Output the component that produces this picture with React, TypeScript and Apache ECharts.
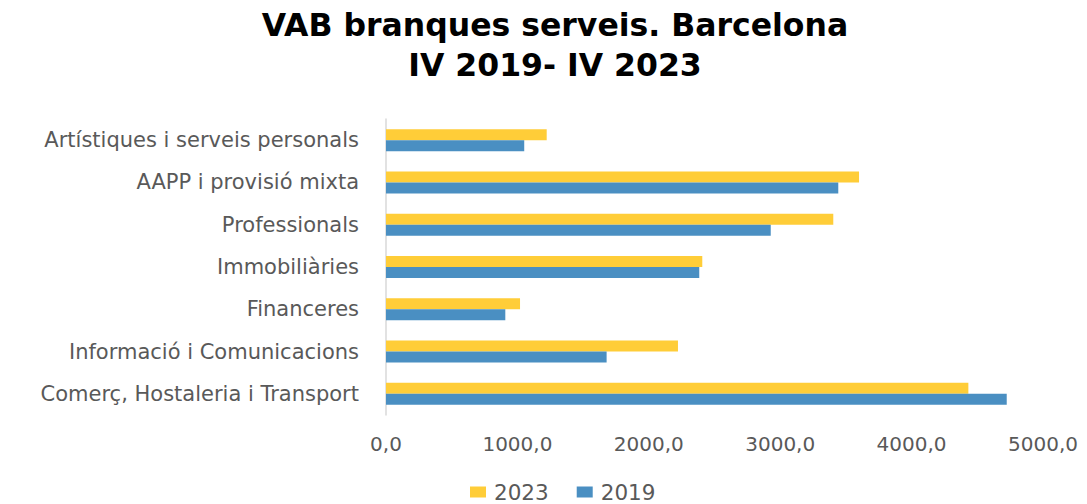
import React, { useEffect, useRef } from "react";
import * as echarts from "echarts";

const titleLines = ["VAB branques serveis. Barcelona", "IV 2019- IV 2023"];
// bottom-to-top order (category axis starts at the bottom)
const categories = [
  "Comerç, Hostaleria i Transport",
  "Informació i Comunicacions",
  "Financeres",
  "Immobiliàries",
  "Professionals",
  "AAPP i provisió mixta",
  "Artístiques i serveis personals",
];
const values2023 = [4432, 2222, 1020, 2407, 3404, 3600, 1223];
const values2019 = [4724, 1679, 908, 2384, 2928, 3442, 1052];
const xTicks = { min: 0, max: 5000, interval: 1000 };
const seriesNames = ["2023", "2019"];

const YELLOW = "#FFCD38";
const BLUE = "#4A8FC2";
const GREY = "#595959";
const FONT = "DejaVu Sans";

export default function App() {
  const ref = useRef<HTMLDivElement>(null);
  useEffect(() => {
    document.body.style.margin = "0";
    if (!ref.current) return;
    const chart = echarts.init(ref.current, undefined, { renderer: "svg" });
    chart.setOption({
      animation: false,
      backgroundColor: "#ffffff",
      title: {
        text: titleLines.join("\n"),
        left: 550,
        top: 0,
        textAlign: "center",
        textStyle: {
          fontFamily: FONT,
          fontWeight: "bold",
          fontSize: 31.5,
          lineHeight: 40,
          color: "#000000",
        },
      },
      legend: {
        data: seriesNames,
        top: 476,
        left: 465,
        icon: "rect",
        itemWidth: 16,
        itemHeight: 11,
        itemGap: 28,
        textStyle: { fontFamily: FONT, fontSize: 21.5, color: GREY, padding: [0, 0, 0, 3] },
      },
      grid: { left: 386, right: 44, top: 119, bottom: 89 },
      xAxis: {
        type: "value",
        min: xTicks.min,
        max: xTicks.max,
        interval: xTicks.interval,
        splitLine: { show: false },
        axisLine: { show: false },
        axisTick: { show: false },
        axisLabel: {
          margin: 19,
          fontFamily: FONT,
          fontSize: 20,
          color: GREY,
          formatter: (v: number) => v.toFixed(1).replace(".", ","),
        },
      },
      yAxis: {
        type: "category",
        data: categories,
        axisLine: { show: true, lineStyle: { color: "#D9D9D9", width: 1.5 } },
        axisTick: { show: false },
        axisLabel: { margin: 27, fontFamily: FONT, fontSize: 21, color: GREY },
      },
      series: [
        {
          name: seriesNames[0],
          type: "bar",
          data: values2023,
          itemStyle: { color: YELLOW },
          barGap: "0%",
          barCategoryGap: "48%",
        },
        {
          name: seriesNames[1],
          type: "bar",
          data: values2019,
          itemStyle: { color: BLUE },
          barGap: "0%",
          barCategoryGap: "48%",
        },
      ],
    });
    return () => chart.dispose();
  }, []);
  return <div ref={ref} style={{ width: 1087, height: 504 }} />;
}
